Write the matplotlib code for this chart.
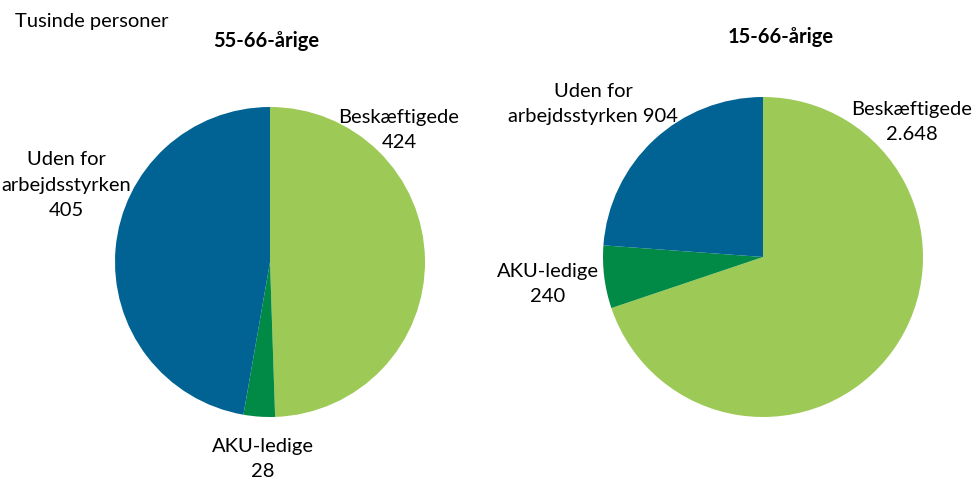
import matplotlib
matplotlib.use("Agg")
import matplotlib.pyplot as plt

plt.rcParams['font.family'] = ['Lato', 'DejaVu Sans']

categories = ["Beskæftigede", "AKU-ledige", "Uden for arbejdsstyrken"]
values_55_66 = [424, 28, 405]
values_15_66 = [2648, 240, 904]
colors = ["#9dc956", "#008a45", "#006394"]

W, H = 976, 480
fig = plt.figure(figsize=(W / 100, H / 100), dpi=100)


def pie_axes(cx, cy, r, vals):
    ax = fig.add_axes([(cx - r) / W, 1 - (cy + r) / H, 2 * r / W, 2 * r / H])
    ax.pie(vals, colors=colors, startangle=90, counterclock=False, radius=1)
    ax.set_xlim(-1, 1)
    ax.set_ylim(-1, 1)
    ax.set_aspect("equal")
    ax.axis("off")
    return ax


def fig_text(x, y, s, **kw):
    fig.text(x / W, 1 - y / H, s, ha="center", va="center", fontsize=14.5,
             linespacing=1.6, **kw)


ax1 = pie_axes(270, 262, 155, values_55_66)
ax2 = pie_axes(763, 257, 160, values_15_66)

fig.text(15 / W, 1 - 22 / H, "Tusinde personer", ha="left", va="center", fontsize=14.5)
fig_text(266, 41, "55-66-årige", fontweight="bold")
fig_text(781, 37, "15-66-årige", fontweight="bold")

fig_text(399, 130, "Beskæftigede\n%d" % values_55_66[0])
fig_text(263, 459, "AKU-ledige\n%d" % values_55_66[1])
fig_text(66, 185, "Uden for\narbejdsstyrken\n%d" % values_55_66[2])

fig_text(912, 122, "Beskæftigede\n%s" % f"{values_15_66[0]:,}".replace(",", "."))
fig_text(548, 284, "AKU-ledige\n%d" % values_15_66[1])
fig_text(593, 104, "Uden for\narbejdsstyrken %d" % values_15_66[2])

fig.savefig("out.png", dpi=100)
